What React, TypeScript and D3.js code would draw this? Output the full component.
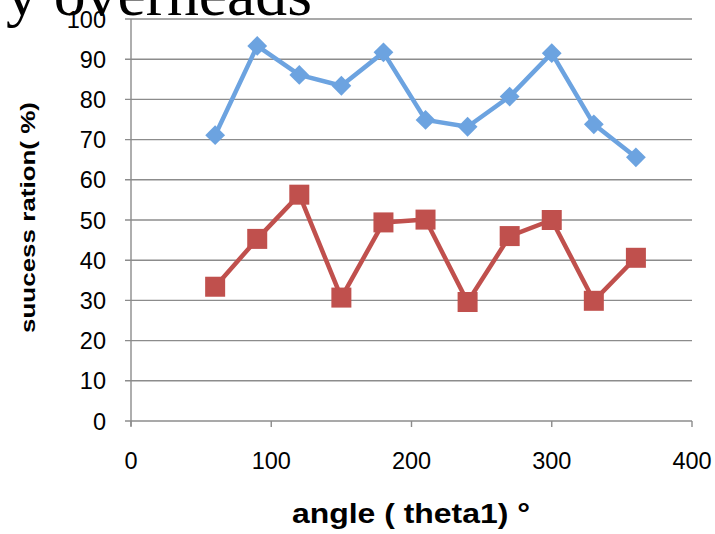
import React from 'react';
import * as d3 from 'd3';

const angles = [60, 90, 120, 150, 180, 210, 240, 270, 300, 330, 360];
const blueSeries = [71.1, 93.3, 86.1, 83.4, 91.7, 74.9, 73.2, 80.7, 91.5, 73.8, 65.6];
const redSeries = [33.4, 45.3, 56.3, 30.7, 49.4, 50.1, 29.6, 46.0, 50.0, 29.9, 40.6];
const xTicks = [0, 100, 200, 300, 400];
const yTicks = [0, 10, 20, 30, 40, 50, 60, 70, 80, 90, 100];

const W = 715;
const H = 534;
const BLUE = '#6CA3E0';
const RED = '#C0504D';
const GRID = '#8C8C8C';
const SANS = '"Liberation Sans", Arial, sans-serif';

export default function App() {
  const x = d3.scaleLinear().domain([0, 400]).range([131, 692]);
  const y = d3.scaleLinear().domain([0, 100]).range([421, 19]);

  const line = d3.line<number>()
    .x((_, i) => x(angles[i]))
    .y(d => y(d));

  const diamond = d3.symbol().type(d3.symbolDiamond2).size(250)();

  return (
    <svg width={W} height={H} style={{ position: 'absolute', left: 0, top: 0, background: '#fff' }}>
      {/* cut-off heading from the page above */}
      <text
        x={6}
        y={15}
        fontFamily='"Liberation Serif", "Times New Roman", serif'
        fontSize={62}
        textLength={306}
        lengthAdjust="spacingAndGlyphs"
        fill="#000"
      >
        y overheads
      </text>

      {/* horizontal gridlines */}
      {yTicks.map(t => (
        <line key={t} x1={x(0) - 6} x2={x(400)} y1={y(t)} y2={y(t)} stroke={GRID} strokeWidth={1.4} />
      ))}

      {/* y axis */}
      <line x1={x(0)} x2={x(0)} y1={y(100)} y2={y(0) + 5} stroke={GRID} strokeWidth={1.4} />
      {/* x axis ticks */}
      {xTicks.map(t => (
        <line key={t} x1={x(t)} x2={x(t)} y1={y(0)} y2={y(0) + 6} stroke={GRID} strokeWidth={1.4} />
      ))}

      {yTicks.map(t => (
        <text key={t} x={106} y={y(t) + 8.5} textAnchor="end" fontFamily={SANS} fontSize={23.5} fill="#000">
          {t}
        </text>
      ))}
      {xTicks.map(t => (
        <text key={t} x={x(t)} y={469} textAnchor="middle" fontFamily={SANS} fontSize={23.5} fill="#000">
          {t}
        </text>
      ))}

      <text
        x={292}
        y={523}
        fontFamily={SANS}
        fontSize={27}
        fontWeight="bold"
        textLength={238}
        lengthAdjust="spacingAndGlyphs"
        fill="#000"
      >
        angle ( theta1) °
      </text>
      <text
        transform="translate(35,333) rotate(-90)"
        fontFamily={SANS}
        fontSize={20}
        fontWeight="bold"
        textLength={231}
        lengthAdjust="spacingAndGlyphs"
        fill="#000"
      >
        suucess ration( %)
      </text>

      {/* series */}
      <path d={line(blueSeries) || ''} fill="none" stroke={BLUE} strokeWidth={4.5} strokeLinejoin="round" />
      {blueSeries.map((v, i) => (
        <path key={i} d={diamond || ''} transform={`translate(${x(angles[i])},${y(v)})`} fill={BLUE} />
      ))}

      <path d={line(redSeries) || ''} fill="none" stroke={RED} strokeWidth={4.5} strokeLinejoin="round" />
      {redSeries.map((v, i) => (
        <rect key={i} x={x(angles[i]) - 10} y={y(v) - 10} width={20} height={20} fill={RED} />
      ))}
    </svg>
  );
}
